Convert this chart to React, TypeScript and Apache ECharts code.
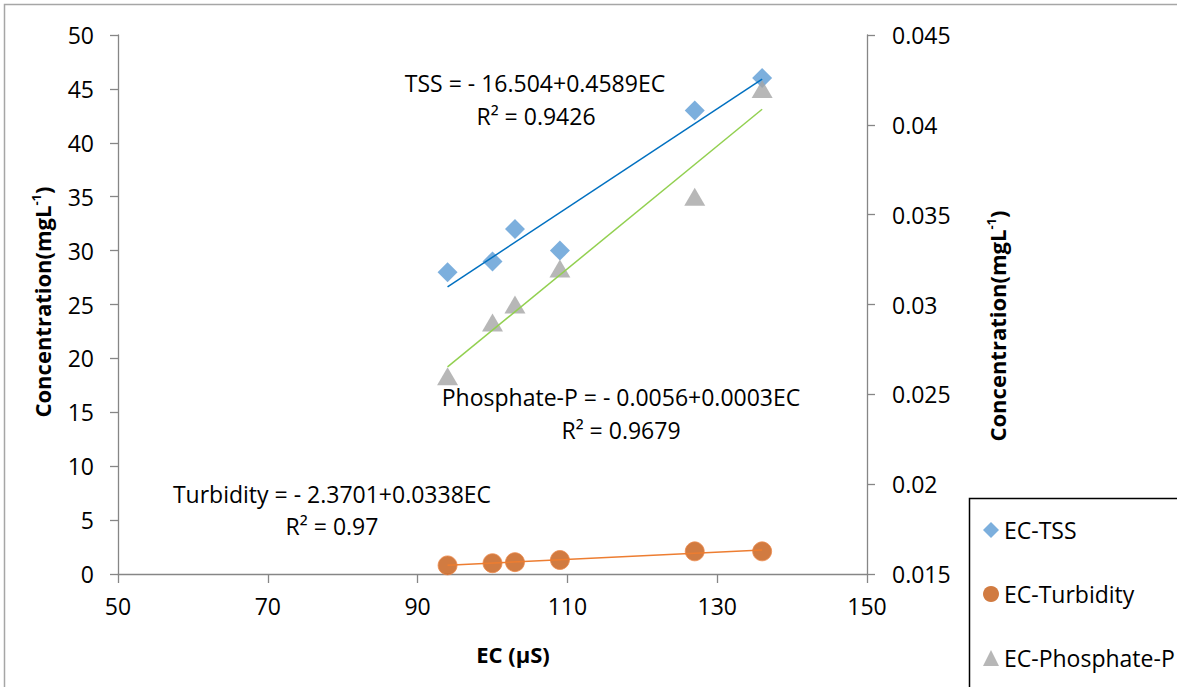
import React, { useEffect, useRef } from "react";
import * as echarts from "echarts";

// Electrical conductivity (µS) of each sample
const ecValues = [94, 100, 103, 109, 127, 136];
// Concentrations measured in the same samples
const tssValues = [28, 29, 32, 30, 43, 46];
const turbidityValues = [0.8, 1.0, 1.1, 1.3, 2.1, 2.1];
const phosphateValues = [0.026, 0.029, 0.03, 0.032, 0.036, 0.042];

const seriesNames = ["EC-TSS", "EC-Turbidity", "EC-Phosphate-P"];
const equationLabels = [
  "TSS = - 16.504+0.4589EC",
  "Turbidity = - 2.3701+0.0338EC",
  "Phosphate-P = - 0.0056+0.0003EC",
];
const r2Labels = ["R² = 0.9426", "R² = 0.97", "R² = 0.9679"];

const FONT = "'Open Sans', 'DejaVu Sans', sans-serif";
const AXIS_GREY = "#868686";

// Ordinary least squares fit y = a + b x
function linearFit(xs: number[], ys: number[]) {
  const n = xs.length;
  const mx = xs.reduce((s, v) => s + v, 0) / n;
  const my = ys.reduce((s, v) => s + v, 0) / n;
  let sxy = 0;
  let sxx = 0;
  for (let i = 0; i < n; i++) {
    sxy += (xs[i] - mx) * (ys[i] - my);
    sxx += (xs[i] - mx) * (xs[i] - mx);
  }
  const b = sxy / sxx;
  return { a: my - b * mx, b };
}

function trendPoints(xs: number[], ys: number[]) {
  const { a, b } = linearFit(xs, ys);
  const x0 = Math.min(...xs);
  const x1 = Math.max(...xs);
  return [
    [x0, a + b * x0],
    [x1, a + b * x1],
  ];
}

function pairs(xs: number[], ys: number[]) {
  return xs.map((x, i) => [x, ys[i]]);
}

function textEl(text: string, x: number, y: number, extra: any = {}) {
  return {
    type: "text",
    x,
    y,
    z: 10,
    style: {
      text,
      fontFamily: FONT,
      fontSize: 23,
      fill: "#000",
      textAlign: "center",
      textVerticalAlign: "middle",
      align: "center",
      verticalAlign: "middle",
      ...extra,
    },
  };
}

function axisTitle(x: number, y: number) {
  return {
    type: "text",
    x,
    y,
    rotation: Math.PI / 2,
    z: 10,
    style: {
      text: "{a|Concentration(mgL}{s|-1}{a|)}",
      textAlign: "center",
      textVerticalAlign: "middle",
      align: "center",
      verticalAlign: "middle",
      rich: {
        a: { fontFamily: FONT, fontSize: 22, fontWeight: "bold", fill: "#000", color: "#000" },
        s: {
          fontFamily: FONT,
          fontSize: 13,
          fontWeight: "bold",
          fill: "#000",
          color: "#000",
          padding: [0, 0, 12, 0],
        },
      },
    },
  };
}

export default function App() {
  const ref = useRef<HTMLDivElement>(null);

  useEffect(() => {
    if (!ref.current) return;
    const chart = echarts.init(ref.current, undefined, { renderer: "svg" });

    const axisCommon = {
      axisLine: { show: true, lineStyle: { color: AXIS_GREY, width: 1.3 } },
      axisTick: { show: true, length: 8, lineStyle: { color: AXIS_GREY, width: 1.3 } },
      splitLine: { show: false },
      axisLabel: { fontFamily: FONT, fontSize: 23, color: "#000" },
    };

    chart.setOption({
      animation: false,
      backgroundColor: "#fff",
      grid: { left: 118, right: 310, top: 35, bottom: 113, containLabel: false },
      xAxis: {
        type: "value",
        min: 50,
        max: 150,
        interval: 20,
        ...axisCommon,
        axisTick: { ...axisCommon.axisTick, length: 9 },
        axisLabel: { ...axisCommon.axisLabel, margin: 20 },
      },
      yAxis: [
        {
          type: "value",
          position: "left",
          min: 0,
          max: 50,
          interval: 5,
          ...axisCommon,
          axisLabel: { ...axisCommon.axisLabel, margin: 24 },
        },
        {
          type: "value",
          position: "right",
          min: 0.015,
          max: 0.045,
          interval: 0.005,
          ...axisCommon,
          axisLabel: {
            ...axisCommon.axisLabel,
            margin: 25,
            formatter: (v: number) => String(+v.toFixed(3)),
          },
        },
      ],
      legend: {
        data: [
          { name: seriesNames[0], icon: "diamond", itemStyle: { borderWidth: 0 } },
          { name: seriesNames[1], icon: "circle", itemStyle: { borderWidth: 0 } },
          { name: seriesNames[2], icon: "triangle", itemStyle: { borderWidth: 0 } },
        ],
        orient: "vertical",
        left: 978,
        top: 513,
        itemWidth: 16,
        itemHeight: 16,
        itemGap: 40,
        textStyle: { fontFamily: FONT, fontSize: 23, color: "#000", lineHeight: 24 },
      },
      series: [
        {
          name: seriesNames[0],
          type: "scatter",
          yAxisIndex: 0,
          symbol: "diamond",
          symbolSize: 20,
          itemStyle: { color: "#5B9BD5" },
          data: pairs(ecValues, tssValues),
          z: 2,
        },
        {
          name: seriesNames[1],
          type: "scatter",
          yAxisIndex: 0,
          symbol: "circle",
          symbolSize: 19,
          itemStyle: { color: "#C55A11", borderColor: "#ED8B4E", borderWidth: 1 },
          data: pairs(ecValues, turbidityValues),
          z: 2,
        },
        {
          name: seriesNames[2],
          type: "scatter",
          yAxisIndex: 1,
          symbol: "triangle",
          symbolSize: [21, 18],
          itemStyle: { color: "#A5A5A5" },
          data: pairs(ecValues, phosphateValues),
          z: 3,
        },
        {
          name: "TSS trend",
          type: "line",
          yAxisIndex: 0,
          showSymbol: false,
          symbol: "none",
          lineStyle: { color: "#0070C0", width: 1.5 },
          data: trendPoints(ecValues, tssValues),
          z: 5,
        },
        {
          name: "Turbidity trend",
          type: "line",
          yAxisIndex: 0,
          showSymbol: false,
          symbol: "none",
          lineStyle: { color: "#ED7D31", width: 1.5 },
          data: trendPoints(ecValues, turbidityValues),
          z: 5,
        },
        {
          name: "Phosphate trend",
          type: "line",
          yAxisIndex: 1,
          showSymbol: false,
          symbol: "none",
          lineStyle: { color: "#92D050", width: 1.5 },
          data: trendPoints(ecValues, phosphateValues),
          z: 5,
        },
      ],
      graphic: [
        {
          type: "rect",
          shape: { x: 4.5, y: 4.5, width: 1300, height: 800 },
          style: { fill: "none", stroke: "#A6A6A6", lineWidth: 1.5 },
          silent: true,
        },
        {
          type: "rect",
          shape: { x: 969.5, y: 498.5, width: 400, height: 400 },
          style: { fill: "none", stroke: "#000", lineWidth: 1.5 },
          silent: true,
        },
        textEl(equationLabels[0], 535, 83),
        textEl(r2Labels[0], 536, 116),
        textEl(equationLabels[2], 621, 397),
        textEl(r2Labels[2], 621, 430),
        textEl(equationLabels[1], 332, 494),
        textEl(r2Labels[1], 332, 526),
        textEl("EC (µS)", 513, 654, { fontSize: 22, fontWeight: "bold" }),
        axisTitle(42, 302),
        axisTitle(997, 326),
      ],
    });

    return () => chart.dispose();
  }, []);

  return (
    <div
      ref={ref}
      style={{ position: "absolute", left: 0, top: 0, width: 1177, height: 687 }}
    />
  );
}
